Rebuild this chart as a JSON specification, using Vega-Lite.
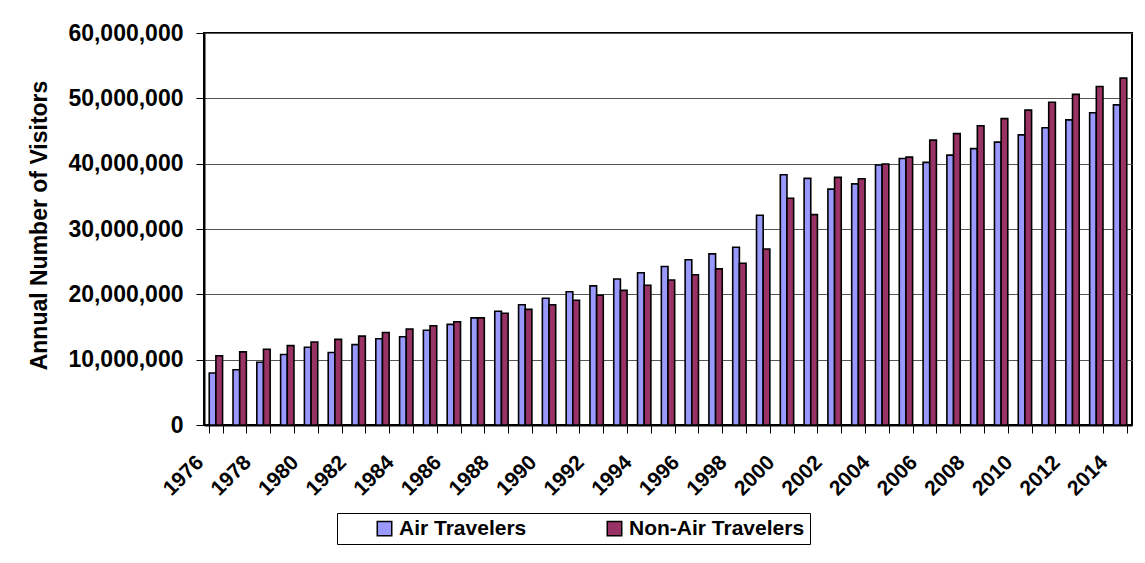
{
  "$schema": "https://vega.github.io/schema/vega-lite/v6.json",
  "width": 928,
  "height": 392,
  "autosize": {"type": "none"},
  "padding": {"left": 204, "top": 33, "right": 13, "bottom": 138},
  "background": "white",
  "config": {
    "font": "Liberation Sans",
    "view": {"stroke": "black", "strokeWidth": 2},
    "axis": {
      "labelFont": "Liberation Sans",
      "labelFontWeight": "bold",
      "labelColor": "black",
      "titleFont": "Liberation Sans",
      "titleColor": "black",
      "domainColor": "black",
      "domainWidth": 2,
      "tickColor": "black",
      "tickWidth": 1
    }
  },
  "data": {
    "values": [
      {"year": 1976, "traveler": "Air Travelers", "visitors": 7950000},
      {"year": 1976, "traveler": "Non-Air Travelers", "visitors": 10600000},
      {"year": 1977, "traveler": "Air Travelers", "visitors": 8450000},
      {"year": 1977, "traveler": "Non-Air Travelers", "visitors": 11200000},
      {"year": 1978, "traveler": "Air Travelers", "visitors": 9600000},
      {"year": 1978, "traveler": "Non-Air Travelers", "visitors": 11600000},
      {"year": 1979, "traveler": "Air Travelers", "visitors": 10800000},
      {"year": 1979, "traveler": "Non-Air Travelers", "visitors": 12150000},
      {"year": 1980, "traveler": "Air Travelers", "visitors": 11900000},
      {"year": 1980, "traveler": "Non-Air Travelers", "visitors": 12700000},
      {"year": 1981, "traveler": "Air Travelers", "visitors": 11100000},
      {"year": 1981, "traveler": "Non-Air Travelers", "visitors": 13100000},
      {"year": 1982, "traveler": "Air Travelers", "visitors": 12300000},
      {"year": 1982, "traveler": "Non-Air Travelers", "visitors": 13600000},
      {"year": 1983, "traveler": "Air Travelers", "visitors": 13200000},
      {"year": 1983, "traveler": "Non-Air Travelers", "visitors": 14150000},
      {"year": 1984, "traveler": "Air Travelers", "visitors": 13500000},
      {"year": 1984, "traveler": "Non-Air Travelers", "visitors": 14700000},
      {"year": 1985, "traveler": "Air Travelers", "visitors": 14500000},
      {"year": 1985, "traveler": "Non-Air Travelers", "visitors": 15200000},
      {"year": 1986, "traveler": "Air Travelers", "visitors": 15400000},
      {"year": 1986, "traveler": "Non-Air Travelers", "visitors": 15800000},
      {"year": 1987, "traveler": "Air Travelers", "visitors": 16400000},
      {"year": 1987, "traveler": "Non-Air Travelers", "visitors": 16400000},
      {"year": 1988, "traveler": "Air Travelers", "visitors": 17400000},
      {"year": 1988, "traveler": "Non-Air Travelers", "visitors": 17100000},
      {"year": 1989, "traveler": "Air Travelers", "visitors": 18400000},
      {"year": 1989, "traveler": "Non-Air Travelers", "visitors": 17700000},
      {"year": 1990, "traveler": "Air Travelers", "visitors": 19400000},
      {"year": 1990, "traveler": "Non-Air Travelers", "visitors": 18400000},
      {"year": 1991, "traveler": "Air Travelers", "visitors": 20400000},
      {"year": 1991, "traveler": "Non-Air Travelers", "visitors": 19100000},
      {"year": 1992, "traveler": "Air Travelers", "visitors": 21300000},
      {"year": 1992, "traveler": "Non-Air Travelers", "visitors": 19850000},
      {"year": 1993, "traveler": "Air Travelers", "visitors": 22350000},
      {"year": 1993, "traveler": "Non-Air Travelers", "visitors": 20600000},
      {"year": 1994, "traveler": "Air Travelers", "visitors": 23300000},
      {"year": 1994, "traveler": "Non-Air Travelers", "visitors": 21400000},
      {"year": 1995, "traveler": "Air Travelers", "visitors": 24250000},
      {"year": 1995, "traveler": "Non-Air Travelers", "visitors": 22200000},
      {"year": 1996, "traveler": "Air Travelers", "visitors": 25300000},
      {"year": 1996, "traveler": "Non-Air Travelers", "visitors": 23000000},
      {"year": 1997, "traveler": "Air Travelers", "visitors": 26200000},
      {"year": 1997, "traveler": "Non-Air Travelers", "visitors": 23900000},
      {"year": 1998, "traveler": "Air Travelers", "visitors": 27200000},
      {"year": 1998, "traveler": "Non-Air Travelers", "visitors": 24750000},
      {"year": 1999, "traveler": "Air Travelers", "visitors": 32100000},
      {"year": 1999, "traveler": "Non-Air Travelers", "visitors": 26950000},
      {"year": 2000, "traveler": "Air Travelers", "visitors": 38300000},
      {"year": 2000, "traveler": "Non-Air Travelers", "visitors": 34700000},
      {"year": 2001, "traveler": "Air Travelers", "visitors": 37750000},
      {"year": 2001, "traveler": "Non-Air Travelers", "visitors": 32200000},
      {"year": 2002, "traveler": "Air Travelers", "visitors": 36100000},
      {"year": 2002, "traveler": "Non-Air Travelers", "visitors": 37900000},
      {"year": 2003, "traveler": "Air Travelers", "visitors": 36900000},
      {"year": 2003, "traveler": "Non-Air Travelers", "visitors": 37700000},
      {"year": 2004, "traveler": "Air Travelers", "visitors": 39800000},
      {"year": 2004, "traveler": "Non-Air Travelers", "visitors": 39950000},
      {"year": 2005, "traveler": "Air Travelers", "visitors": 40800000},
      {"year": 2005, "traveler": "Non-Air Travelers", "visitors": 41000000},
      {"year": 2006, "traveler": "Air Travelers", "visitors": 40200000},
      {"year": 2006, "traveler": "Non-Air Travelers", "visitors": 43600000},
      {"year": 2007, "traveler": "Air Travelers", "visitors": 41300000},
      {"year": 2007, "traveler": "Non-Air Travelers", "visitors": 44600000},
      {"year": 2008, "traveler": "Air Travelers", "visitors": 42300000},
      {"year": 2008, "traveler": "Non-Air Travelers", "visitors": 45800000},
      {"year": 2009, "traveler": "Air Travelers", "visitors": 43300000},
      {"year": 2009, "traveler": "Non-Air Travelers", "visitors": 46900000},
      {"year": 2010, "traveler": "Air Travelers", "visitors": 44400000},
      {"year": 2010, "traveler": "Non-Air Travelers", "visitors": 48200000},
      {"year": 2011, "traveler": "Air Travelers", "visitors": 45500000},
      {"year": 2011, "traveler": "Non-Air Travelers", "visitors": 49400000},
      {"year": 2012, "traveler": "Air Travelers", "visitors": 46700000},
      {"year": 2012, "traveler": "Non-Air Travelers", "visitors": 50600000},
      {"year": 2013, "traveler": "Air Travelers", "visitors": 47800000},
      {"year": 2013, "traveler": "Non-Air Travelers", "visitors": 51800000},
      {"year": 2014, "traveler": "Air Travelers", "visitors": 49000000},
      {"year": 2014, "traveler": "Non-Air Travelers", "visitors": 53100000}
    ]
  },
  "mark": {"type": "bar", "stroke": "black", "strokeWidth": 1.6},
  "encoding": {
    "x": {
      "field": "year",
      "type": "ordinal",
      "scale": {"paddingInner": 0.44, "paddingOuter": 0.22},
      "axis": {
        "title": null,
        "labelAngle": -45,
        "labelAlign": "right",
        "labelBaseline": "middle",
        "labelOffset": -16,
        "labelPadding": 26,
        "labelFontSize": 21,
        "labelOverlap": false,
        "labelExpr": "datum.value % 2 == 0 ? datum.label : ''",
        "tickBand": "extent",
        "tickSize": 8,
        "grid": false
      }
    },
    "xOffset": {
      "field": "traveler",
      "type": "nominal",
      "sort": ["Air Travelers", "Non-Air Travelers"],
      "scale": {"paddingInner": 0, "paddingOuter": 0}
    },
    "y": {
      "field": "visitors",
      "type": "quantitative",
      "scale": {"domain": [0, 60000000], "nice": false},
      "axis": {
        "title": "Annual Number of Visitors",
        "titleFontSize": 23,
        "titleFontWeight": "bold",
        "titleAngle": -90,
        "titleBaseline": "alphabetic",
        "titleX": -158,
        "titleY": 192,
        "values": [0, 10000000, 20000000, 30000000, 40000000, 50000000, 60000000],
        "format": ",d",
        "labelFontSize": 23,
        "labelPadding": 13,
        "tickSize": 8,
        "grid": true,
        "gridColor": "#555555",
        "gridWidth": 1
      }
    },
    "color": {
      "field": "traveler",
      "type": "nominal",
      "scale": {
        "domain": ["Air Travelers", "Non-Air Travelers"],
        "range": ["#9999FF", "#993366"]
      },
      "legend": {
        "title": null,
        "orient": "none",
        "legendX": 133,
        "legendY": 480,
        "direction": "horizontal",
        "columns": 2,
        "strokeColor": "black",
        "fillColor": "white",
        "padding": 5,
        "symbolType": "square",
        "symbolSize": 210,
        "symbolStrokeColor": "black",
        "symbolStrokeWidth": 1.5,
        "symbolOpacity": 1,
        "symbolOffset": 32,
        "labelFont": "Liberation Sans",
        "labelFontSize": 21,
        "labelFontWeight": "bold",
        "labelColor": "black",
        "labelOffset": 4,
        "labelLimit": 400,
        "columnPadding": 45
      }
    }
  }
}
